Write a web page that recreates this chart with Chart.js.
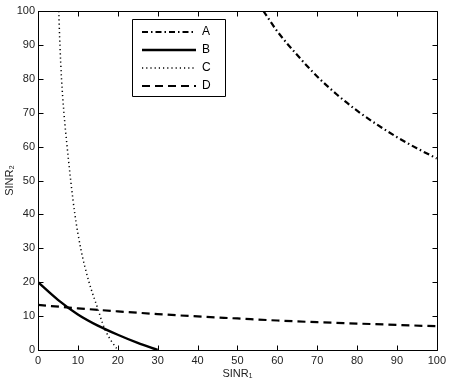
<!DOCTYPE html>
<html>
<head>
<meta charset="utf-8">
<script src="https://cdn.jsdelivr.net/npm/chart.js@4.4.1/dist/chart.umd.min.js"></script>
<style>
html,body{margin:0;padding:0;background:#fff;}
#wrap{width:450px;height:381px;position:relative;}
</style>
</head>
<body>
<div id="wrap"><canvas id="c" width="450" height="381"></canvas></div>
<script>
// ---- data ----
const seriesNames = ["A", "B", "C", "D"];
const xTitle = "SINR\u2081";
const yTitle = "SINR\u2082";
const xTicks = [0, 10, 20, 30, 40, 50, 60, 70, 80, 90, 100];
const yTicks = [0, 10, 20, 30, 40, 50, 60, 70, 80, 90, 100];

const aX = [56.5, 60, 65, 70, 75, 80, 85, 90, 95, 100];
const aY = [100, 94, 87, 80.7, 75.3, 70.6, 66.5, 62.8, 59.5, 56.5];

const bX = [0, 5, 10, 15, 20, 25, 30];
const bY = [20, 14.8, 10.5, 7.2, 4.5, 2.1, 0];

const cX = [5.2, 5.5, 5.9, 6.5, 7.3, 8.2, 9.25, 10.7, 12.8, 15.1, 16, 17, 18.3, 20];
const cY = [100, 90, 80, 70, 60, 50, 40, 30, 20, 11.8, 8.5, 5.5, 2.8, 0];

const dX = [0, 10, 20, 30, 40, 50, 60, 70, 80, 90, 100];
const dY = [13.3, 12.3, 11.4, 10.6, 9.9, 9.3, 8.7, 8.2, 7.8, 7.4, 7.0];

const FONT = '"Liberation Sans Narrow", "Liberation Sans", Arial, sans-serif';

function pts(xs, ys) { return xs.map((x, i) => ({x: x, y: ys[i]})); }

const styles = [
  {borderDash: [6, 3, 1.5, 3], borderWidth: 2.2},
  {borderDash: [], borderWidth: 2.4},
  {borderDash: [1.2, 3], borderWidth: 1.5},
  {borderDash: [8, 5], borderWidth: 2.2}
];
const allData = [pts(aX, aY), pts(bX, bY), pts(cX, cY), pts(dX, dY)];

const datasets = seriesNames.map((n, i) => Object.assign({
  label: n,
  data: allData[i],
  borderColor: '#000',
  backgroundColor: '#000',
  pointRadius: 0,
  pointStyle: 'line',
  fill: false,
  cubicInterpolationMode: 'monotone',
  clip: 0
}, styles[i]));

const framePlugin = {
  id: 'frame',
  afterLayout(chart) {
    const lg = chart.legend;
    if (lg) { lg.left = 136; lg.top = 20; }
  },
  afterDraw(chart) {
    const ctx = chart.ctx;
    const a = chart.chartArea;
    const xs = chart.scales.x, ys = chart.scales.y;
    ctx.save();
    ctx.strokeStyle = '#000';
    ctx.lineWidth = 1;
    ctx.setLineDash([]);
    const L = Math.round(a.left) + 0.5, R = Math.round(a.right) + 0.5;
    const T = Math.round(a.top) + 0.5, B = Math.round(a.bottom) + 0.5;
    ctx.beginPath();
    ctx.rect(L, T, R - L, B - T);
    ctx.stroke();
    const tl = 5;
    ctx.beginPath();
    xTicks.forEach(v => {
      const px = Math.round(xs.getPixelForValue(v)) + 0.5;
      ctx.moveTo(px, B); ctx.lineTo(px, B - tl);
      ctx.moveTo(px, T); ctx.lineTo(px, T + tl);
    });
    yTicks.forEach(v => {
      const py = Math.round(ys.getPixelForValue(v)) + 0.5;
      ctx.moveTo(L, py); ctx.lineTo(L + tl, py);
      ctx.moveTo(R, py); ctx.lineTo(R - tl, py);
    });
    ctx.stroke();
    const lg = chart.legend;
    ctx.beginPath();
    ctx.rect(Math.round(lg.left) - 3.5, Math.round(lg.top) - 0.5, 93, 77);
    ctx.stroke();
    ctx.restore();
  }
};

new Chart(document.getElementById('c'), {
  type: 'line',
  data: {datasets: datasets},
  options: {
    responsive: false,
    animation: false,
    layout: {padding: {top: 11, right: 12, left: 0, bottom: 0}},
    plugins: {
      legend: {
        position: 'chartArea',
        align: 'start',
        labels: {
          usePointStyle: true,
          pointStyle: 'line',
          pointStyleWidth: 54,
          padding: 6,
          color: '#000',
          font: {family: FONT, size: 12},
          generateLabels(chart) {
            return chart.data.datasets.map((ds, i) => ({
              text: ds.label,
              datasetIndex: i,
              hidden: !chart.isDatasetVisible(i),
              fillStyle: ds.borderColor,
              strokeStyle: ds.borderColor,
              fontColor: '#000',
              lineWidth: ds.borderWidth,
              lineDash: ds.borderDash,
              lineCap: 'butt',
              pointStyle: 'line'
            }));
          }
        }
      },
      tooltip: {enabled: false}
    },
    scales: {
      x: {
        type: 'linear',
        min: 0, max: 100,
        afterFit(s) { s.height = 31; },
        grid: {display: false, drawTicks: false},
        border: {display: true, color: '#000'},
        ticks: {stepSize: 10, padding: 4, color: '#222', font: {family: FONT, size: 11}, maxRotation: 0},
        title: {display: true, text: xTitle, color: '#222', font: {family: FONT, size: 11}, padding: {top: 0, bottom: 0}}
      },
      y: {
        type: 'linear',
        min: 0, max: 100,
        afterFit(s) { s.width = 38; },
        grid: {display: false, drawTicks: false},
        border: {display: true, color: '#000'},
        ticks: {stepSize: 10, padding: 3, color: '#222', font: {family: FONT, size: 11}},
        title: {display: true, text: yTitle, color: '#222', font: {family: FONT, size: 11}, padding: {top: 3, bottom: 2}}
      }
    }
  },
  plugins: [framePlugin]
});
</script>
</body>
</html>
